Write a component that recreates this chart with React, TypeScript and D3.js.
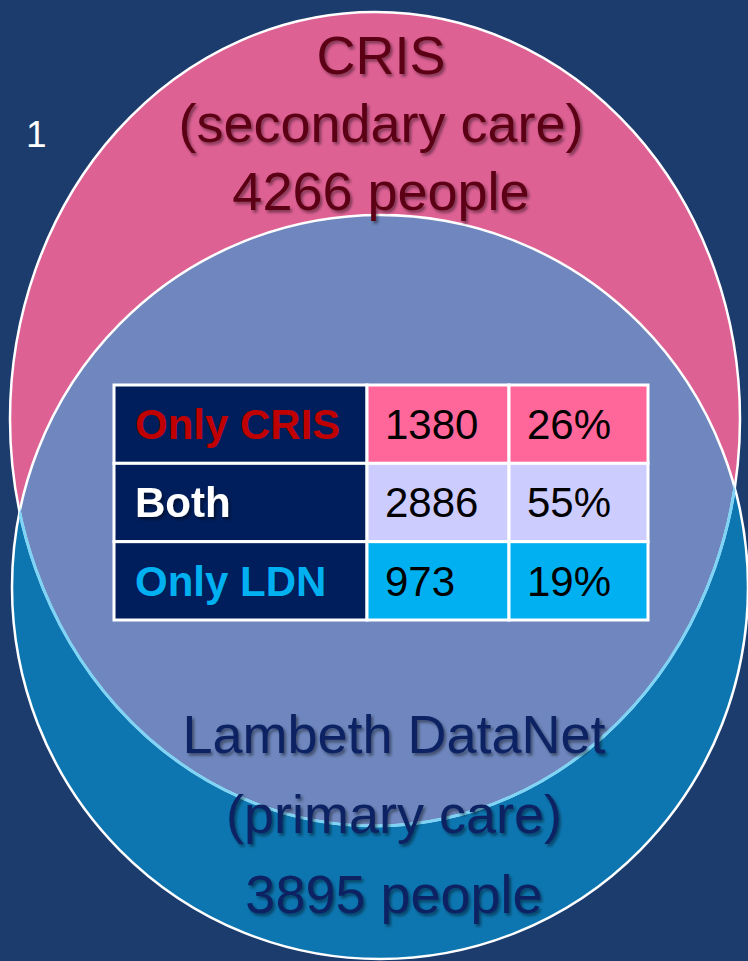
import * as d3 from 'd3';
import React, { useEffect, useRef } from 'react';

// set labels and sizes
const setNames = ['CRIS', 'Lambeth DataNet'];
const setSubtitles = ['(secondary care)', '(primary care)'];
const setTotals = [4266, 3895];

// table rows
const categories = ['Only CRIS', 'Both', 'Only LDN'];
const counts = [1380, 2886, 973];
const percents = [26, 55, 19];

const slideNumber = '1';

const W = 748;
const H = 961;
const FONT = '"Liberation Sans", Arial, sans-serif';

export default function App() {
  const ref = useRef<SVGSVGElement>(null);

  useEffect(() => {
    const svg = d3.select(ref.current);
    svg.selectAll('*').remove();

    const defs = svg.append('defs');
    const shadow = defs.append('filter').attr('id', 'shadow')
      .attr('x', '-10%').attr('y', '-10%').attr('width', '120%').attr('height', '130%');
    shadow.append('feDropShadow')
      .attr('dx', 2).attr('dy', 2.5).attr('stdDeviation', 1.6)
      .attr('flood-color', '#000').attr('flood-opacity', 0.45);

    // ellipses (pink = CRIS, blue = LDN)
    const cris = { cx: 375, cy: 419, rx: 365, ry: 407 };
    const ldn = { cx: 380, cy: 587, rx: 368, ry: 372 };

    defs.append('clipPath').attr('id', 'clip-cris')
      .append('ellipse').attr('cx', cris.cx).attr('cy', cris.cy).attr('rx', cris.rx).attr('ry', cris.ry);
    defs.append('clipPath').attr('id', 'clip-ldn')
      .append('ellipse').attr('cx', ldn.cx).attr('cy', ldn.cy).attr('rx', ldn.rx).attr('ry', ldn.ry);

    svg.append('rect').attr('width', W).attr('height', H).attr('fill', '#1c3c6e');

    const ell = (g, e) => g.append('ellipse')
      .attr('cx', e.cx).attr('cy', e.cy).attr('rx', e.rx).attr('ry', e.ry);

    ell(svg, cris).attr('fill', '#de6194');
    ell(svg, ldn).attr('fill', '#0d76b0');
    ell(svg.append('g').attr('clip-path', 'url(#clip-cris)'), ldn).attr('fill', '#6f87be');

    ell(svg, ldn).attr('fill', 'none').attr('stroke', '#fff').attr('stroke-width', 2.5);
    ell(svg, cris).attr('fill', 'none').attr('stroke', '#fff').attr('stroke-width', 2.5);
    ell(svg.append('g').attr('clip-path', 'url(#clip-ldn)'), cris)
      .attr('fill', 'none').attr('stroke', '#7fd4f5').attr('stroke-width', 3);

    svg.append('text').attr('x', 26).attr('y', 147)
      .style('font-family', FONT).style('font-size', '37px').attr('fill', '#fff')
      .text(slideNumber);

    // set titles
    const crisLines = [setNames[0], setSubtitles[0], setTotals[0] + ' people'];
    const ldnLines = [setNames[1], setSubtitles[1], setTotals[1] + ' people'];

    svg.append('g').attr('filter', 'url(#shadow)')
      .selectAll('text').data(crisLines).enter().append('text')
      .attr('x', 381).attr('y', (d, i) => 74 + i * 68)
      .attr('text-anchor', 'middle')
      .style('font-family', FONT).style('font-size', '54px')
      .attr('fill', '#5c0014')
      .text(d => d);

    svg.append('g').attr('filter', 'url(#shadow)')
      .selectAll('text').data(ldnLines).enter().append('text')
      .attr('x', 394).attr('y', (d, i) => 753 + i * 80)
      .attr('text-anchor', 'middle')
      .style('font-family', FONT).style('font-size', '54px')
      .attr('fill', '#0b2262')
      .text(d => d);

    // table
    const y = d3.scaleBand().domain(categories).range([385, 620]);
    const colEdges = [114, 367, 509, 648];
    const rowFill = d3.scaleOrdinal<string, string>().domain(categories).range(['#ff6699', '#ccccff', '#00b0f0']);
    const labelFill = d3.scaleOrdinal<string, string>().domain(categories).range(['#c00000', '#ffffff', '#00b0f0']);

    const t = svg.append('g');
    const rows = t.selectAll('g').data(categories).enter().append('g');

    rows.append('rect')
      .attr('x', colEdges[0]).attr('y', d => y(d))
      .attr('width', colEdges[1] - colEdges[0]).attr('height', y.bandwidth())
      .attr('fill', '#001e5c').attr('stroke', '#fff').attr('stroke-width', 3);
    rows.append('rect')
      .attr('x', colEdges[1]).attr('y', d => y(d))
      .attr('width', colEdges[2] - colEdges[1]).attr('height', y.bandwidth())
      .attr('fill', d => rowFill(d)).attr('stroke', '#fff').attr('stroke-width', 3);
    rows.append('rect')
      .attr('x', colEdges[2]).attr('y', d => y(d))
      .attr('width', colEdges[3] - colEdges[2]).attr('height', y.bandwidth())
      .attr('fill', d => rowFill(d)).attr('stroke', '#fff').attr('stroke-width', 3);

    rows.append('text')
      .attr('x', colEdges[0] + 21).attr('y', d => y(d) + 54)
      .style('font-family', FONT).style('font-size', '42px').style('font-weight', 'bold')
      .attr('fill', d => labelFill(d))
      .attr('filter', d => d === 'Both' ? 'url(#shadow)' : null)
      .text(d => d);

    rows.append('text')
      .attr('x', colEdges[1] + 18).attr('y', d => y(d) + 54)
      .style('font-family', FONT).style('font-size', '42px').attr('fill', '#000')
      .text((d, i) => counts[i]);

    rows.append('text')
      .attr('x', colEdges[2] + 18).attr('y', d => y(d) + 54)
      .style('font-family', FONT).style('font-size', '42px').attr('fill', '#000')
      .text((d, i) => percents[i] + '%');
  }, []);

  return (
    <svg ref={ref} width={W} height={H}
      style={{ position: 'absolute', left: 0, top: 0, display: 'block' }} />
  );
}
